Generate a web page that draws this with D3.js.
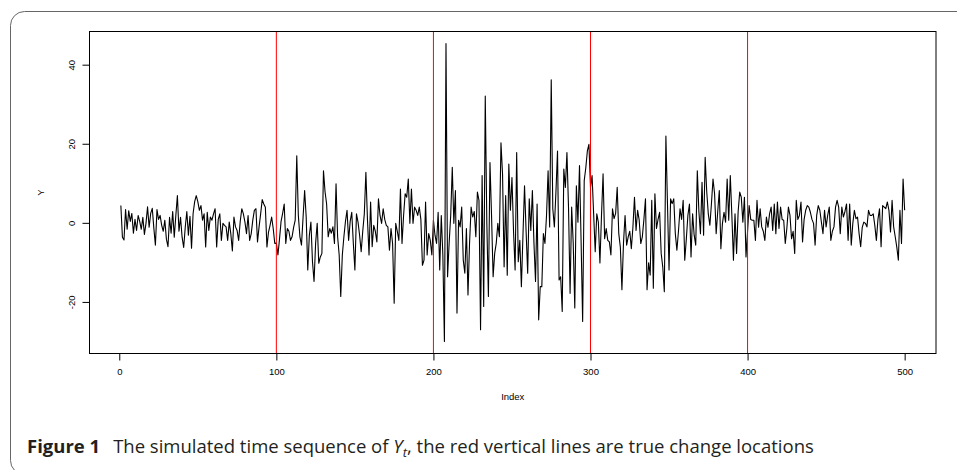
<!DOCTYPE html>
<html>
<head>
<meta charset="utf-8">
<script src="https://cdn.jsdelivr.net/npm/d3@7"></script>
<style>
  html, body { margin: 0; padding: 0; background: #fff; }
  svg { display: block; }
</style>
</head>
<body>
<svg id="chart" width="957" height="470"></svg>
<script>
// ---- data ----
const xTicks = [0, 100, 200, 300, 400, 500];
const yTicks = [-20, 0, 20, 40];
const changePoints = [100, 200, 300, 400];
const xLabel = "Index";
const yLabel = "Y";
const Y = [
  4.5, -3.5, -4.2, 3.5, -1.5, 3.2, 0.5, 2.5, -2.5, 1.0,
  -1.8, 2.0, 0.5, -1.5, 1.5, -2.8, 0.0, 4.2, -1.0, 2.5,
  3.8, -1.2, -5.5, 3.5, 1.0, 2.0, -0.5, -2.0, 0.8, -4.0,
  -5.9, 1.5, -2.5, 3.0, -3.5, 2.0, 7.0, -2.0, 1.5, -3.5,
  -6.1, -1.0, 3.0, -3.0, 1.8, -6.3, 2.5, 5.5, 7.0, 5.5,
  3.3, 4.5, 0.8, 2.4, -6.0, 2.8, -1.8, 1.6, 0.8, 2.4,
  3.7, -6.0, 1.0, 2.4, -4.3, 0.0, -0.5, -0.9, -4.3, 0.3,
  -2.6, -7.0, 1.6, -0.9, -1.8, -4.3, 0.5, 3.7, 2.4, 0.3,
  -2.6, 2.0, -4.3, -2.6, 0.8, 3.3, 3.7, -4.7, -0.9, 2.4,
  6.0, 4.9, 4.1, -6.0, -2.2, -0.5, 1.6, -1.3, -5.1, -5.0,
  -8.0, -4.0, 0.5, 2.5, 4.9, -5.1, -1.3, -2.0, -4.3, -3.4,
  -1.0, 0.8, 17.1, 2.0, -3.4, -5.5, 1.5, 8.3, 1.6, -11.8,
  -3.0, 0.3, -9.7, -14.7, -5.0, 0.0, -10.1, -8.5, -7.6, 13.3,
  8.0, 4.9, -3.4, -1.3, -2.5, -0.9, -5.1, 10.0, -3.4, -8.0,
  -18.5, -8.0, -3.4, 0.5, 3.3, -4.3, 0.5, 2.8, -5.0, -11.8,
  2.4, 0.3, -3.0, -7.2, -2.0, 2.4, 12.9, 1.0, -8.0, 5.4,
  -5.9, -0.5, -2.0, -4.7, 6.2, 2.0, 0.0, 3.7, 1.0, -0.5,
  -0.9, -6.8, -1.3, -5.1, -20.2, 0.0, -2.0, -4.3, 8.7, -5.1,
  2.0, 7.5, 6.6, 11.2, 0.0, 8.7, 0.0, 4.1, 3.3, 2.0,
  4.1, 1.0, -10.6, -9.3, 5.4, -8.0, -2.6, -4.3, -8.0, 0.8,
  -3.0, -5.1, 2.8, -11.8, 2.0, -8.0, -29.9, 45.5, -13.5, -5.0,
  2.0, 14.2, 0.0, 8.3, -22.7, 0.8, -0.9, 4.1, -9.3, -12.6,
  -1.3, -18.1, -5.0, 4.1, 1.6, 3.0, -3.4, 7.9, 5.8, -26.9,
  12.1, -21.0, 32.2, 0.0, -18.5, 15.4, 2.0, -13.5, -7.6, -5.0,
  0.0, -3.4, 20.4, 12.5, -11.0, 7.0, -13.1, 15.0, 3.3, 11.6,
  -2.0, -11.8, 17.9, -9.7, -4.3, -16.0, -3.0, 9.5, -2.0, -12.6,
  6.2, -1.8, 8.3, -5.0, -14.7, 4.9, -24.4, -16.0, -16.0, -2.6,
  -5.1, 2.0, 13.3, -0.9, 36.3, 3.7, -0.9, 8.0, 18.3, -14.3,
  -13.5, -22.3, 13.7, 9.1, 17.9, 4.1, -17.7, 4.1, -5.0, -21.4,
  9.5, 0.3, 14.6, -4.3, -24.8, 10.8, 14.0, 18.3, 20.0, 9.1,
  12.1, 2.4, -7.2, 2.4, 0.3, -10.0, 2.0, 12.5, -3.9, -1.3,
  -4.3, -4.7, -8.0, 3.7, 1.2, 2.5, 9.1, -2.6, -6.0, -16.8,
  -5.0, 2.0, -5.5, -3.4, -2.0, -6.4, -1.0, 6.6, -1.8, 3.3,
  0.8, -5.1, -3.4, 1.0, 6.2, -16.8, -10.0, -13.1, 5.8, -16.4,
  7.5, -1.3, 1.0, 2.8, -7.6, -11.0, -17.3, 22.1, 5.0, -11.8,
  6.2, 5.0, 6.2, -2.6, -6.8, -2.0, 3.7, 1.0, 5.8, -9.3,
  -4.0, 2.0, 4.9, -8.5, 2.4, -3.0, -5.5, 13.3, 3.0, -2.6,
  10.4, -3.0, 16.7, 8.0, 2.4, -0.5, 5.0, 11.2, 7.5, -2.6,
  3.0, 8.3, -6.4, 0.0, 2.8, 0.3, 11.2, 0.8, 12.1, 2.0,
  -9.3, 2.4, -7.6, 3.0, 7.9, 6.6, 0.3, 6.6, -8.5, -2.0,
  4.5, 1.0, 0.8, 0.8, -4.3, 5.8, -1.0, 3.7, -0.9, -2.0,
  -4.3, 1.6, -1.0, 2.4, 4.1, -1.8, 4.9, -2.6, 5.4, -1.3,
  4.1, 1.0, 0.8, -5.1, -1.3, 4.1, 2.0, -3.9, -2.0, -7.6,
  5.8, 1.0, 2.0, 5.4, -4.7, 1.0, 3.3, 4.5, 4.1, 2.8,
  1.0, 0.0, -5.5, 2.0, 4.5, 3.3, 0.3, -2.6, 3.3, -0.9,
  2.0, 4.1, -4.3, -2.0, -0.9, 4.1, 5.8, 4.1, -2.6, 4.1,
  1.6, 3.0, 4.9, -4.3, 4.9, -5.5, 0.0, 3.3, 1.2, 1.6,
  -2.6, -5.9, -1.0, 0.3, 0.0, -0.9, 3.3, 2.0, 2.0, 2.4,
  -0.5, -4.3, 1.0, 3.7, -5.9, 4.5, 4.1, 3.7, 5.4, 3.3,
  -2.2, 5.8, -0.9, -3.4, -6.0, -9.3, 3.3, -5.1, 11.2, 3.3
];
const series = Y.map((v, i) => ({ index: i + 1, value: v }));

// ---- layout ----
const svg = d3.select("#chart");
const box = { left: 89.5, right: 936, top: 31.5, bottom: 353.5 };

// frame
svg.append("rect")
  .attr("x", 10.5).attr("y", 11.5)
  .attr("width", 1000).attr("height", 463)
  .attr("rx", 14).attr("ry", 14)
  .attr("fill", "none").attr("stroke", "#666").attr("stroke-width", 1);

// R-style 4% padded ranges
const xExt = d3.extent(series, d => d.index);
const xPad = (xExt[1] - xExt[0]) * 0.04;
const yExt = d3.extent(series, d => d.value);
const yPad = (yExt[1] - yExt[0]) * 0.04;

const x = d3.scaleLinear().domain([xExt[0] - xPad, xExt[1] + xPad]).range([box.left, box.right]);
const y = d3.scaleLinear().domain([yExt[0] - yPad, yExt[1] + yPad]).range([box.bottom, box.top]);

const font = "'Liberation Sans', Arial, Helvetica, sans-serif";

// series line
svg.append("path")
  .datum(series)
  .attr("fill", "none")
  .attr("stroke", "#000")
  .attr("stroke-width", 1.1)
  .attr("stroke-linejoin", "round")
  .attr("d", d3.line().x(d => x(d.index)).y(d => y(d.value)));

// change-point lines
svg.append("g").selectAll("line")
  .data(changePoints).join("line")
  .attr("x1", d => x(d)).attr("x2", d => x(d))
  .attr("y1", box.top).attr("y2", box.bottom)
  .attr("stroke", "#ff0000").attr("stroke-width", 1);

// plot box
svg.append("rect")
  .attr("x", box.left).attr("y", box.top)
  .attr("width", box.right - box.left).attr("height", box.bottom - box.top)
  .attr("fill", "none").attr("stroke", "#000").attr("stroke-width", 1);

// x axis
const gx = svg.append("g")
  .attr("transform", `translate(0,${box.bottom})`)
  .call(d3.axisBottom(x).tickValues(xTicks).tickSize(7).tickPadding(8).tickFormat(d3.format("d")));
gx.select(".domain").remove();
gx.selectAll("line").attr("stroke", "#000");
gx.selectAll("text").attr("font-family", font).attr("font-size", 9.5).attr("fill", "#000");

// y axis
const gy = svg.append("g")
  .attr("transform", `translate(${box.left},0)`)
  .call(d3.axisLeft(y).tickValues(yTicks).tickSize(7).tickFormat(d => String(d)));
gy.select(".domain").remove();
gy.selectAll("line").attr("stroke", "#000");
gy.selectAll(".tick").attr("transform", null);
gy.selectAll(".tick line").attr("y1", d => y(d)).attr("y2", d => y(d)).attr("x2", -7);
gy.selectAll(".tick text")
  .attr("font-family", font).attr("font-size", 9.5).attr("fill", "#000")
  .attr("x", null).attr("dy", null).attr("y", 0)
  .attr("text-anchor", "middle")
  .attr("transform", d => `translate(-15,${y(d)}) rotate(-90)`);

// axis titles
svg.append("text")
  .attr("x", (box.left + box.right) / 2).attr("y", 400)
  .attr("text-anchor", "middle")
  .attr("font-family", font).attr("font-size", 9.5)
  .text(xLabel);
svg.append("text")
  .attr("transform", `translate(44,${(box.top + box.bottom) / 2}) rotate(-90)`)
  .attr("text-anchor", "middle")
  .attr("font-family", font).attr("font-size", 9.5)
  .text(yLabel);

// caption
const cap = svg.append("text")
  .attr("x", 27).attr("y", 453)
  .attr("font-family", "'Open Sans', 'Noto Sans', sans-serif")
  .attr("font-size", 18.5).attr("fill", "#231f20");
cap.append("tspan").attr("font-weight", "bold").text("Figure 1");
cap.append("tspan").attr("dx", 13).text("The simulated time sequence of ");
cap.append("tspan").attr("font-style", "italic").text("Y");
cap.append("tspan").attr("font-style", "italic").attr("font-size", 13).attr("dy", 3.5).text("t");
cap.append("tspan").attr("dy", -3.5).text(", the red vertical lines are true change locations");
</script>
</body>
</html>
